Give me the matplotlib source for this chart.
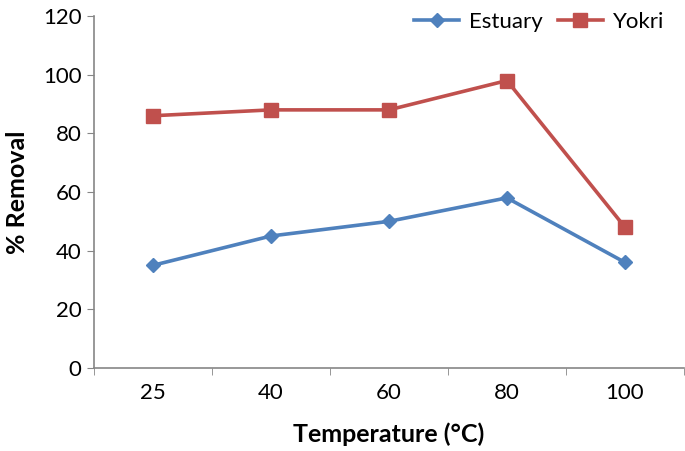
import matplotlib
matplotlib.use('Agg')
import matplotlib.pyplot as plt
import numpy as np

# data
temperatures = ['25', '40', '60', '80', '100']
estuary = [35, 45, 50, 58, 36]
yokri = [86, 88, 88, 98, 48]
y_ticks = [0, 20, 40, 60, 80, 100, 120]

plt.rcParams['font.family'] = ['Lato', 'DejaVu Sans']

fig = plt.figure(figsize=(6.85, 4.51), dpi=100)
ax = fig.add_axes([0.137, 0.184, 0.8615, 0.7805])

x = np.arange(len(temperatures))
ax.plot(x, estuary, color='#4F81BD', linewidth=2.6, marker='D',
        markersize=7, label='Estuary')
ax.plot(x, yokri, color='#C0504D', linewidth=2.6, marker='s',
        markersize=10.5, label='Yokri')

ax.set_xlim(-0.5, len(temperatures) - 0.5)
ax.set_ylim(0, 120)
ax.set_yticks(y_ticks)
ax.tick_params(axis='y', labelsize=16, length=5, color='#868686', pad=4)

# category labels centred, tick marks between categories
ax.set_xticks(x)
ax.set_xticklabels(temperatures)
ax.set_xticks(np.arange(-0.5, len(temperatures)), minor=True)
ax.tick_params(axis='x', which='major', length=0, labelsize=16, pad=11)
ax.tick_params(axis='x', which='minor', length=5, color='#868686')

for side in ('top', 'right'):
    ax.spines[side].set_visible(False)
for side in ('left', 'bottom'):
    ax.spines[side].set_color('#868686')
    ax.spines[side].set_linewidth(1.2)

ax.set_xlabel('Temperature (°C)', fontsize=18, fontweight='bold', labelpad=14)
ax.set_ylabel('% Removal', fontsize=18, fontweight='bold', labelpad=10)

ax.legend(loc='center right', ncol=2, frameon=False, fontsize=16,
          bbox_to_anchor=(664 / 685, 1 - 22 / 451), bbox_transform=fig.transFigure,
          borderpad=0, borderaxespad=0, handlelength=2.0, columnspacing=0.7,
          handletextpad=0.45)

fig.savefig('out.png', dpi=100)
